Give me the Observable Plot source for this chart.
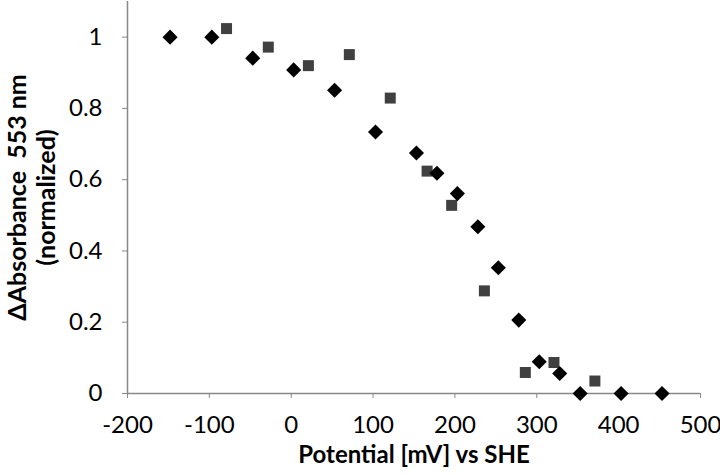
<!DOCTYPE html>
<html><head><meta charset="utf-8">
<script src="https://cdn.jsdelivr.net/npm/d3@7"></script>
<script src="https://cdn.jsdelivr.net/npm/@observablehq/plot@0.6"></script>
<style>body{margin:0;background:#fff;} svg text{white-space:pre;}</style>
</head><body><div id="chart"></div>
<script>
const diamondX = [-148,-97,-47,3,53,103,153,178,203,228,253,278,303,328,353,403,453];
const diamondY = [1.0,1.0,0.941,0.908,0.851,0.734,0.675,0.618,0.561,0.468,0.353,0.206,0.089,0.056,0,0,0];
const squareX = [-79,-28,21,71,121,166,196,236,286,321,371];
const squareY = [1.024,0.972,0.920,0.951,0.829,0.624,0.528,0.288,0.059,0.087,0.035];
const xTicks = [-200,-100,0,100,200,300,400,500];
const yTicks = [0,0.2,0.4,0.6,0.8,1];
const xTitle = "Potential [mV] vs SHE";
const yTitle1 = "\u0394Absorbance  553 nm";
const yTitle2 = "(normalized)";

const diamonds = diamondX.map((x,i)=>({x, y: diamondY[i]}));
const squares = squareX.map((x,i)=>({x, y: squareY[i]}));
const axisGray = "#888888";
const font = "Lato, 'Open Sans', sans-serif";

const chart = Plot.plot({
  width: 720, height: 475,
  marginLeft: 127, marginRight: 20, marginTop: 1, marginBottom: 82,
  style: {fontFamily: font, fontSize: "24px", color: "#000", background: "#fff"},
  x: {domain: [-200, 500]},
  y: {domain: [0, 1.1]},
  marks: [
    Plot.axisX({ticks: xTicks, tickFormat: d => String(d), tickSize: 5, tickPadding: 17, stroke: axisGray, fill: "#000", fontSize: 24, label: null}),
    Plot.axisY({ticks: yTicks, tickFormat: d => String(d), tickSize: 5, tickPadding: 20, stroke: axisGray, fill: "#000", fontSize: 24, label: null}),
    Plot.ruleX([-200], {stroke: axisGray, strokeWidth: 1.5}),
    Plot.ruleY([0], {stroke: axisGray, strokeWidth: 1.5}),
    Plot.dot(squares, {x: "x", y: "y", symbol: "square", r: 6.2, fill: "#404040", stroke: "none"}),
    Plot.dot(diamonds, {x: "x", y: "y", symbol: "diamond2", r: 6.8, fill: "#000", stroke: "none"}),
    Plot.text([xTitle], {frameAnchor: "bottom", dy: 69, text: d => d, fontSize: 24, fontWeight: "bold", fill: "#000"}),
    Plot.text([yTitle1], {frameAnchor: "left", textAnchor: "middle", lineAnchor: "middle", dx: -110, rotate: -90, text: d => d, fontSize: 25, fontWeight: "bold", fill: "#000"}),
    Plot.text([yTitle2], {frameAnchor: "left", textAnchor: "middle", lineAnchor: "middle", dx: -81, rotate: -90, text: d => d, fontSize: 25, fontWeight: "bold", fill: "#000"})
  ]
});
document.getElementById("chart").appendChild(chart);
</script>
</body></html>
